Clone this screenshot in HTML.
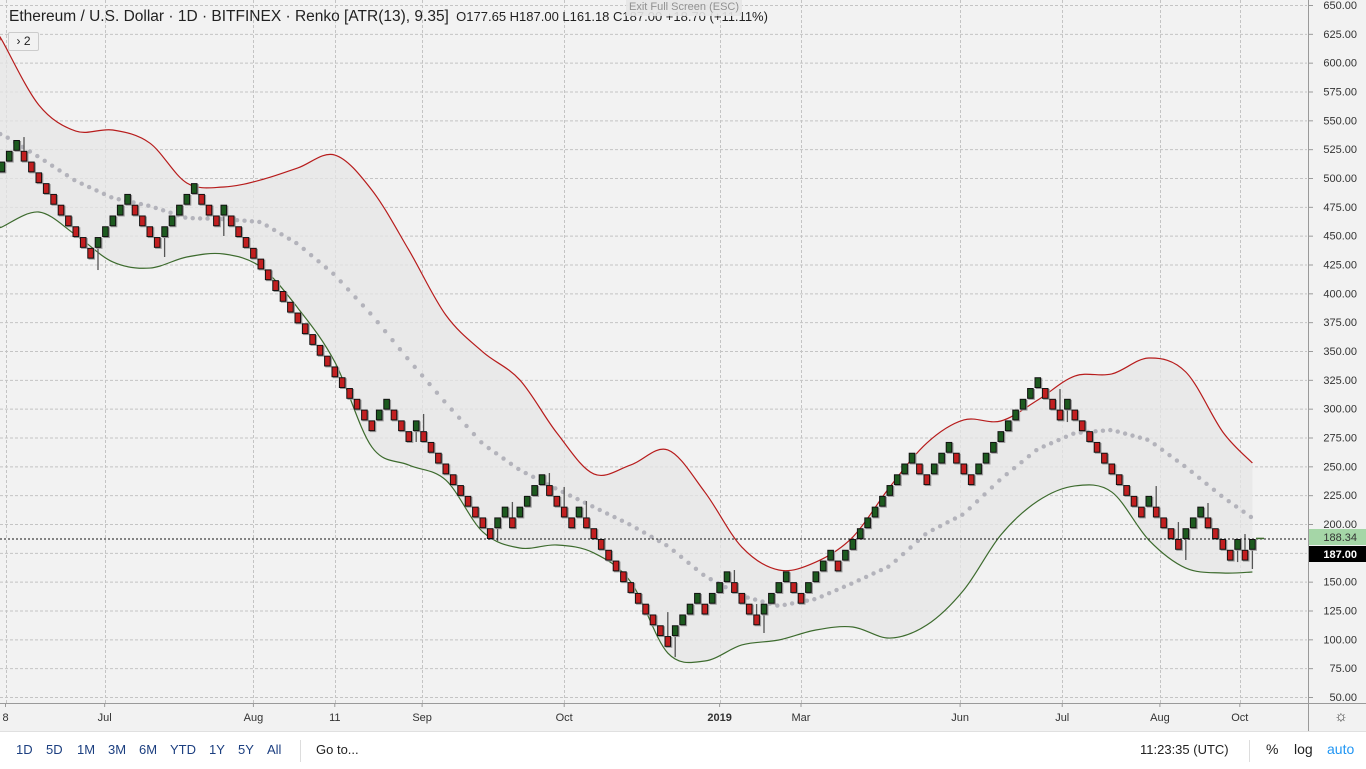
<!DOCTYPE html>
<html><head><meta charset="utf-8"><style>
html,body{margin:0;padding:0;width:1366px;height:768px;overflow:hidden;background:#fff;font-family:"Liberation Sans",sans-serif}
svg{display:block}
</style></head><body>
<svg id="chart" width="1366" height="768" xmlns="http://www.w3.org/2000/svg">
<rect x="0" y="0" width="1366" height="731" fill="#f2f2f2"/>
<g id="grid"></g>
<g id="band"></g>
<g id="bricks"></g>
<g id="axes"></g>
</svg>
<script>
// ---- data ----
const boxSize = 9.35;
const firstClose = 514.25;
const brickDirs = [1,1,1,-1,-1,-1,-1,-1,-1,-1,-1,-1,-1,1,1,1,1,1,-1,-1,-1,-1,1,1,1,1,1,-1,-1,-1,1,
-1,-1,-1,-1,-1,-1,-1,-1,-1,-1,-1,-1,-1,-1,-1,-1,-1,-1,-1,-1,1,1,-1,-1,-1,1,
-1,-1,-1,-1,-1,-1,-1,-1,-1,-1,1,1,-1,1,1,1,1,-1,-1,-1,-1,1,
-1,-1,-1,-1,-1,-1,-1,-1,-1,-1,-1,-1,1,1,1,1,-1,1,1,1,-1,-1,-1,-1,1,1,1,1,-1,-1,1,1,1,1,-1,
1,1,1,1,1,1,1,1,1,1,-1,-1,1,1,1,-1,-1,-1,1,1,1,1,1,1,1,1,1,-1,-1,-1,1,
-1,-1,-1,-1,-1,-1,-1,-1,-1,-1,1,-1,-1,-1,-1,1,1,1,-1,-1,-1,-1,1,-1,1];
const wickBricks = [3,13,22,30,56,57,67,69,74,76,79,90,91,99,102,103,143,144,156,159,160,163,167,168,169];
const wickPrices = [535.5,420.2,431.5,449.7,271.1,295.4,185.3,219.1,244.2,232.1,219.9,123.6,84.6,160.1,130.6,105.5,317.0,288.4,232.9,201.7,168.8,218.2,167.0,191.3,161.0];
const bandIdx = [0,5,10,15,20,25,30,35,40,45,50,55,60,65,70,75,80,85,90,95,100,105,110,115,120,125,130,135,140,145,150,155,160,165,169];
const upperBand = [619.7,563.3,540.7,541.6,530.3,495.7,492.2,498.3,508.7,519.9,489.6,437.6,381.2,349.2,324.9,279.0,243.4,251.2,264.2,227.7,180.0,160.1,167.0,188.7,232.1,270.2,290.2,289.3,307.5,328.3,330.1,343.9,331.8,279.8,252.9];
const lowerBand = [457.5,470.5,450.6,427.2,421.9,431.5,434.1,422.8,387.3,340.5,266.8,251.1,238.1,193.1,179.2,181.8,174.9,149.7,88.1,81.2,95.1,99.4,108.1,110.7,101.1,112.4,142.8,190.5,219.9,233.0,227.7,186.1,161.8,157.5,158.4];
const midBand = [538.1,518.2,497.4,482.7,475.7,465.3,464.4,461.8,442.8,415.9,381.2,342.2,304.9,269.4,246.8,230.3,214.7,199.1,180.9,154.9,137.6,128.9,135.0,148.8,163.6,192.2,208.7,239.0,265.0,278.9,281.5,272.8,249.4,223.4,205.2];
const priceTicks = [650,625,600,575,550,525,500,475,450,425,400,375,350,325,300,275,250,225,200,175,150,125,100,75,50];
const timeLabels = ["8","Jul","Aug","11","Sep","Oct","2019","Mar","Jun","Jul","Aug","Oct"];
const timeBricks = [0.5,13.9,34,45,56.8,76,97,108,129.5,143.3,156.5,167.3];
const lastClose = 187.00, lastMark = 188.34;

// ---- scales ----
const NS="http://www.w3.org/2000/svg";
function yS(p){return 5+(650-p)*1.15333;}
function xS(i){return 1.8+i*7.4;}
function mk(tag,attrs,parent){const e=document.createElementNS(NS,tag);for(const k in attrs)e.setAttribute(k,attrs[k]);parent.appendChild(e);return e;}
const grid=document.getElementById('grid'),band=document.getElementById('band'),bricks=document.getElementById('bricks'),axes=document.getElementById('axes');

// grid
priceTicks.forEach(p=>{const l=mk('line',{x1:0,x2:1307,y1:yS(p)+0.5,y2:yS(p)+0.5,stroke:'#c4c4c4','stroke-dasharray':'3,2','stroke-width':1},grid);

});
timeBricks.forEach(b=>{const x=Math.round(xS(b))+0.5;const l=mk('line',{x1:x,x2:x,y1:0,y2:703,stroke:'#c4c4c4','stroke-dasharray':'3,2','stroke-width':1},grid);

});

// band
function pts(arr){return bandIdx.map((b,k)=>[xS(b),yS(arr[k])]);}
function smooth(p){let d='M'+p[0][0]+','+p[0][1];for(let i=0;i<p.length-1;i++){const p0=p[i-1]||p[i],p1=p[i],p2=p[i+1],p3=p[i+2]||p2;
d+=' C'+(p1[0]+(p2[0]-p0[0])/6)+','+(p1[1]+(p2[1]-p0[1])/6)+' '+(p2[0]-(p3[0]-p1[0])/6)+','+(p2[1]-(p3[1]-p1[1])/6)+' '+p2[0]+','+p2[1];}return d;}
const up=pts(upperBand),lo=pts(lowerBand);
const xl=[[0,up[0][1]]].concat(up), xlo=[[0,lo[0][1]]].concat(lo);
const fillD=smooth(xl)+' L'+smooth(xlo.slice().reverse()).slice(1)+' Z';
const f=mk('path',{d:fillD,fill:'#e6e6e6','fill-opacity':0.75},band);


const ul=mk('path',{d:smooth(xl),fill:'none',stroke:'#b71c1c','stroke-width':1.2},band);


const ll=mk('path',{d:smooth(xlo),fill:'none',stroke:'#3d6b2e','stroke-width':1.2},band);


// mid dots
function interp(arr,i){for(let k=0;k<bandIdx.length-1;k++){if(i<=bandIdx[k+1]){const t=(i-bandIdx[k])/(bandIdx[k+1]-bandIdx[k]);return arr[k]+(arr[k+1]-arr[k])*t;}}return arr[arr.length-1];}
for(let i=-0.2;i<=169;i+=1){const c=mk('circle',{cx:xS(i),cy:yS(interp(midBand,Math.max(0,i))),r:2.2,fill:'#b3b3bb'},band);

}

// bricks
let closes=[],prevDir=0,c=0;
brickDirs.forEach((d,i)=>{if(i===0)c=firstClose;else c=c+(d===prevDir?1:2)*d*boxSize;closes.push(c);prevDir=d;});
const bw=6.6;
wickBricks.forEach((b,k)=>{const cl=closes[b],op=cl-brickDirs[b]*boxSize;const top=Math.max(cl,op),bot=Math.min(cl,op);const wp=wickPrices[k];
const w=mk('line',{x1:xS(b),x2:xS(b),y1:yS(wp),y2:wp>top?yS(top):yS(bot),stroke:'#555','stroke-width':1.3},bricks);

});
closes.forEach((cl,i)=>{const d=brickDirs[i],op=cl-d*boxSize;const top=Math.max(cl,op),bot=Math.min(cl,op);
const s=mk('rect',{x:xS(i)-bw/2+1.2,y:yS(top)+1,width:bw,height:yS(bot)-yS(top),fill:'#9a9a9a'},bricks);


const r=mk('rect',{x:xS(i)-bw/2+0.5,y:yS(top)+0.5,width:bw-1,height:yS(bot)-yS(top)-1,fill:d>0?'#1d5a1f':'#c21f20',stroke:'#111','stroke-width':1},bricks);

});

// last price line
const lp=mk('line',{x1:0,x2:1308,y1:yS(lastClose),y2:yS(lastClose),stroke:'#111','stroke-dasharray':'2,2','stroke-width':1},axes);


const tail=mk('line',{x1:1256,x2:1264,y1:yS(lastMark)+1,y2:yS(lastMark)+1,stroke:'#3d6b2e','stroke-width':1.5},axes);



// axes
const pa=mk('rect',{x:1308,y:0,width:58,height:731,fill:'#f2f2f2'},axes);


mk('line',{x1:1308.5,x2:1308.5,y1:0,y2:731,stroke:'#9a9a9a'},axes);
mk('line',{x1:0,x2:1366,y1:703.5,y2:703.5,stroke:'#9a9a9a'},axes);
priceTicks.forEach(p=>{mk('line',{x1:1308,x2:1313,y1:yS(p)+0.5,y2:yS(p)+0.5,stroke:'#9a9a9a'},axes);
const t=mk('text',{x:1357,y:yS(p)+4,'font-size':11,fill:'#333','text-anchor':'end'},axes);t.textContent=p.toFixed(2);

});
const g1=mk('rect',{x:1309,y:529,width:57,height:16,fill:'#a5d6a7'},axes);


const g1t=mk('text',{x:1357,y:541,'font-size':11,fill:'#333','text-anchor':'end'},axes);g1t.textContent=lastMark.toFixed(2);


const g2=mk('rect',{x:1309,y:546,width:57,height:16,fill:'#000'},axes);


const g2t=mk('text',{x:1357,y:558,'font-size':11,'font-weight':'bold',fill:'#fff','text-anchor':'end'},axes);g2t.textContent=lastClose.toFixed(2);


timeLabels.forEach((lab,k)=>{const x=xS(timeBricks[k]);mk('line',{x1:x,x2:x,y1:703,y2:707,stroke:'#9a9a9a'},axes);
const t=mk('text',{x:Math.max(x,4),y:721,'font-size':11,fill:'#333','text-anchor':'middle','font-weight':lab==='2019'?'bold':'normal'},axes);t.textContent=lab;

});
</script>
<div style="position:absolute;left:9px;top:8px;font-size:15.5px;color:#222;white-space:nowrap">Ethereum / U.S. Dollar · 1D · BITFINEX · Renko [ATR(13), 9.35] <span style="font-size:13px;margin-left:3px">O177.65 H187.00 L161.18 C187.00 +18.70 (+11.11%)</span></div>
<div style="position:absolute;left:626px;top:0;width:116px;height:16px;background:#e6e6e6;color:#888;font-size:11px;text-align:center;line-height:15px;opacity:.9">Exit Full Screen (ESC)</div>
<div style="position:absolute;left:8px;top:32px;width:29px;height:17px;border:1px solid #ccc;border-radius:2px;background:#f2f2f2;font-size:12px;color:#222;line-height:17px;text-align:center">› 2</div>
<div style="position:absolute;left:1333px;top:709px;width:16px;height:16px;font-size:15px;line-height:16px;text-align:center;color:#333">☼</div>
<div style="position:absolute;left:0;top:731px;width:1366px;height:37px;background:#fff;border-top:1px solid #e0e0e0;font-size:13px;color:#1c3f80">
<span style="position:absolute;left:16px;top:10px">1D</span>
<span style="position:absolute;left:46px;top:10px">5D</span>
<span style="position:absolute;left:77px;top:10px">1M</span>
<span style="position:absolute;left:108px;top:10px">3M</span>
<span style="position:absolute;left:139px;top:10px">6M</span>
<span style="position:absolute;left:170px;top:10px">YTD</span>
<span style="position:absolute;left:209px;top:10px">1Y</span>
<span style="position:absolute;left:238px;top:10px">5Y</span>
<span style="position:absolute;left:267px;top:10px">All</span>
<span style="position:absolute;left:300px;top:8px;width:1px;height:22px;background:#ddd"></span>
<span style="position:absolute;left:316px;top:10px;color:#222">Go to...</span>
<span style="position:absolute;left:1140px;top:10px;color:#222">11:23:35 (UTC)</span>
<span style="position:absolute;left:1249px;top:8px;width:1px;height:22px;background:#ddd"></span>
<span style="position:absolute;left:1266px;top:9px;color:#222;font-size:14px">%</span>
<span style="position:absolute;left:1294px;top:9px;color:#222;font-size:14px">log</span>
<span style="position:absolute;left:1327px;top:9px;color:#2196f3;font-size:14px">auto</span>
</div>
</body></html>
